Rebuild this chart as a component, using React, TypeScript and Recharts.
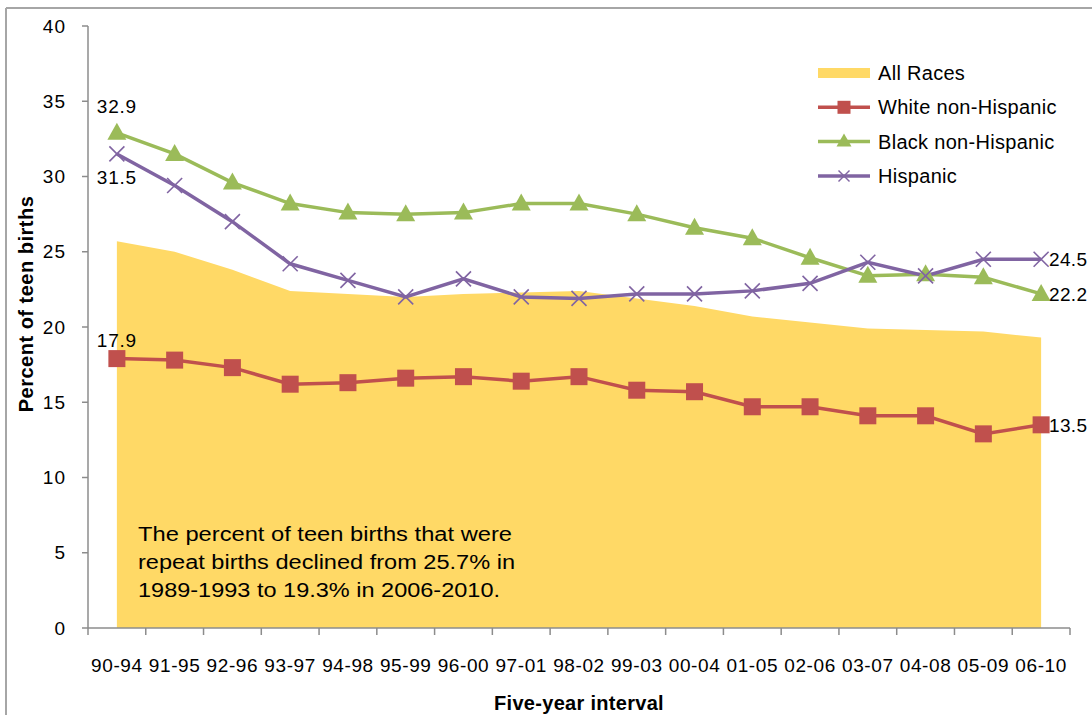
import React from "react";
import { ComposedChart, Area, Line, XAxis, YAxis, LabelList } from "recharts";

const intervals = [
  "90-94", "91-95", "92-96", "93-97", "94-98", "95-99", "96-00", "97-01", "98-02",
  "99-03", "00-04", "01-05", "02-06", "03-07", "04-08", "05-09", "06-10",
];
const allRaces = [25.7, 25.0, 23.8, 22.4, 22.2, 22.0, 22.2, 22.3, 22.4, 21.9, 21.4, 20.7, 20.3, 19.9, 19.8, 19.7, 19.3];
const whiteNonHispanic = [17.9, 17.8, 17.3, 16.2, 16.3, 16.6, 16.7, 16.4, 16.7, 15.8, 15.7, 14.7, 14.7, 14.1, 14.1, 12.9, 13.5];
const blackNonHispanic = [32.9, 31.5, 29.6, 28.2, 27.6, 27.5, 27.6, 28.2, 28.2, 27.5, 26.6, 25.9, 24.6, 23.4, 23.5, 23.3, 22.2];
const hispanic = [31.5, 29.4, 27.0, 24.2, 23.1, 22.0, 23.2, 22.0, 21.9, 22.2, 22.2, 22.4, 22.9, 24.3, 23.4, 24.5, 24.5];
const yTicks = [0, 5, 10, 15, 20, 25, 30, 35, 40];
const noteLines = [
  "The percent of teen births that were",
  "repeat births declined from 25.7% in",
  "1989-1993 to 19.3% in 2006-2010.",
];

const data = intervals.map((interval, i) => ({
  interval,
  all: allRaces[i],
  white: whiteNonHispanic[i],
  black: blackNonHispanic[i],
  hisp: hispanic[i],
}));

const FONT = '"Liberation Sans", Arial, sans-serif';
const YELLOW = "#FFD966";
const RED = "#C0504D";
const GREEN = "#9BBB59";
const PURPLE = "#8064A2";
const AXIS = "#8C8C8C";
const X_TICK_SIZE = 6;
const X_TICK_MARGIN = 24;

// category label plus Excel-style tick marks on the band boundaries
const IntervalTick = (props: any) => {
  const { x, y, payload, index, width } = props;
  const half = payload?.offset ?? width / intervals.length / 2;
  const axisY = y - X_TICK_SIZE - X_TICK_MARGIN;
  const isLast = index === intervals.length - 1;
  return (
    <g>
      <line x1={x - half} y1={axisY} x2={x - half} y2={axisY + 7} stroke={AXIS} strokeWidth={1.5} />
      {isLast && <line x1={x + half} y1={axisY} x2={x + half} y2={axisY + 7} stroke={AXIS} strokeWidth={1.5} />}
      <text x={x} y={y + 13.5} textAnchor="middle" fontFamily={FONT} fontSize={19} letterSpacing={0.6} fill="#000">
        {payload.value}
      </text>
    </g>
  );
};

const SquareDot = (props: any) => {
  const { cx, cy } = props;
  if (cx == null || cy == null) return null;
  return <rect x={cx - 8.5} y={cy - 8.5} width={17} height={17} fill={RED} />;
};

const TriangleDot = (props: any) => {
  const { cx, cy } = props;
  if (cx == null || cy == null) return null;
  return <polygon points={`${cx},${cy - 10} ${cx + 9.5},${cy + 7} ${cx - 9.5},${cy + 7}`} fill={GREEN} />;
};

const CrossDot = (props: any) => {
  const { cx, cy } = props;
  if (cx == null || cy == null) return null;
  return (
    <g stroke={PURPLE} strokeWidth={1.6}>
      <line x1={cx - 7.5} y1={cy - 7.5} x2={cx + 7.5} y2={cy + 7.5} />
      <line x1={cx - 7.5} y1={cy + 7.5} x2={cx + 7.5} y2={cy - 7.5} />
    </g>
  );
};

// label the first point (above/below) and the last point (to the right)
const endLabels = (firstDy: number) => (props: any) => {
  const { x, y, value, index } = props;
  if (index === 0) {
    return (
      <text x={x} y={y + firstDy} textAnchor="middle" fontFamily={FONT} fontSize={19} letterSpacing={0.8} fill="#000">
        {value}
      </text>
    );
  }
  if (index === intervals.length - 1) {
    return (
      <text x={x + 8} y={y + 7} textAnchor="start" fontFamily={FONT} fontSize={19} letterSpacing={0.3} fill="#000">
        {value}
      </text>
    );
  }
  return null;
};

const legendItems = [
  { name: "All Races", color: YELLOW, kind: "area" },
  { name: "White non-Hispanic", color: RED, kind: "square" },
  { name: "Black non-Hispanic", color: GREEN, kind: "triangle" },
  { name: "Hispanic", color: PURPLE, kind: "cross" },
];

function LegendOverlay() {
  return (
    <g>
      {legendItems.map((item, i) => {
        const cy = 73 + i * 34.3;
        const mx = 844;
        return (
          <g key={item.name}>
            {item.kind === "area" ? (
              <rect x={818} y={cy - 5} width={52} height={10} fill={item.color} />
            ) : (
              <line x1={818} y1={cy} x2={870} y2={cy} stroke={item.color} strokeWidth={3.5} />
            )}
            {item.kind === "square" && <rect x={mx - 6.5} y={cy - 6.5} width={13} height={13} fill={item.color} />}
            {item.kind === "triangle" && (
              <polygon points={`${mx},${cy - 8} ${mx + 7.5},${cy + 5} ${mx - 7.5},${cy + 5}`} fill={item.color} />
            )}
            {item.kind === "cross" && (
              <g stroke={item.color} strokeWidth={1.4}>
                <line x1={mx - 5.5} y1={cy - 5.5} x2={mx + 5.5} y2={cy + 5.5} />
                <line x1={mx - 5.5} y1={cy + 5.5} x2={mx + 5.5} y2={cy - 5.5} />
              </g>
            )}
            <text x={878} y={cy + 7} fontFamily={FONT} fontSize={20} letterSpacing={0.3} fill="#000">
              {item.name}
            </text>
          </g>
        );
      })}
    </g>
  );
}

export default function App() {
  return (
    <div style={{ position: "absolute", left: 0, top: 0, width: 1092, height: 715, overflow: "hidden", background: "#fff" }}>
      <ComposedChart
        width={1092}
        height={715}
        data={data}
        margin={{ top: 26, right: 22, bottom: 27, left: 28 }}
      >
        <XAxis
          dataKey="interval"
          scale="band"
          height={60}
          axisLine={{ stroke: AXIS, strokeWidth: 1.5 }}
          tickLine={false}
          tickSize={X_TICK_SIZE}
          tickMargin={X_TICK_MARGIN}
          interval={0}
          tick={IntervalTick}
          label={{
            content: (p: any) => {
              const vb = p.viewBox;
              return (
                <text x={vb.x + vb.width / 2} y={vb.y + vb.height + 22} textAnchor="middle" fontFamily={FONT} fontSize={20} fontWeight="bold" letterSpacing={0.3} fill="#000">
                  Five-year interval
                </text>
              );
            },
          }}
        />
        <YAxis
          domain={[0, 40]}
          ticks={yTicks}
          width={60}
          axisLine={{ stroke: AXIS, strokeWidth: 1.5 }}
          tickLine={{ stroke: AXIS, strokeWidth: 1.5 }}
          tickSize={6}
          tickMargin={16}
          tick={{ fontFamily: FONT, fontSize: 19, fill: "#000", letterSpacing: 1 }}
          label={{
            content: (p: any) => {
              const vb = p.viewBox;
              const cx = vb.x + 5;
              const cy = vb.y + vb.height / 2 - 23;
              return (
                <text x={cx} y={cy} transform={`rotate(-90 ${cx} ${cy})`} textAnchor="middle" fontFamily={FONT} fontSize={20} fontWeight="bold" letterSpacing={0.5} fill="#000">
                  Percent of teen births
                </text>
              );
            },
          }}
        />
        <Area
          type="linear"
          dataKey="all"
          name="All Races"
          fill={YELLOW}
          fillOpacity={1}
          stroke="none"
          dot={false}
          activeDot={false}
          isAnimationActive={false}
        />
        <Line
          type="linear"
          dataKey="white"
          name="White non-Hispanic"
          stroke={RED}
          strokeWidth={3.5}
          dot={SquareDot}
          activeDot={false}
          isAnimationActive={false}
        >
          <LabelList dataKey="white" content={endLabels(-12)} />
        </Line>
        <Line
          type="linear"
          dataKey="black"
          name="Black non-Hispanic"
          stroke={GREEN}
          strokeWidth={3.5}
          dot={TriangleDot}
          activeDot={false}
          isAnimationActive={false}
        >
          <LabelList dataKey="black" content={endLabels(-20)} />
        </Line>
        <Line
          type="linear"
          dataKey="hisp"
          name="Hispanic"
          stroke={PURPLE}
          strokeWidth={3.5}
          dot={CrossDot}
          activeDot={false}
          isAnimationActive={false}
        >
          <LabelList dataKey="hisp" content={endLabels(30)} />
        </Line>
      </ComposedChart>
      <svg width={1092} height={715} style={{ position: "absolute", left: 0, top: 0, pointerEvents: "none" }}>
        <line x1={6} y1={8} x2={6} y2={715} stroke="#A6A6A6" strokeWidth={2} />
        <line x1={6} y1={8} x2={1092} y2={8} stroke="#A6A6A6" strokeWidth={2} />
        <LegendOverlay />
        {noteLines.map((line, i) => (
          <text key={i} x={138} y={541 + i * 28} textLength={[374, 377, 362][i]} lengthAdjust="spacingAndGlyphs" fontFamily={FONT} fontSize={20} fill="#000">
            {line}
          </text>
        ))}
      </svg>
    </div>
  );
}
